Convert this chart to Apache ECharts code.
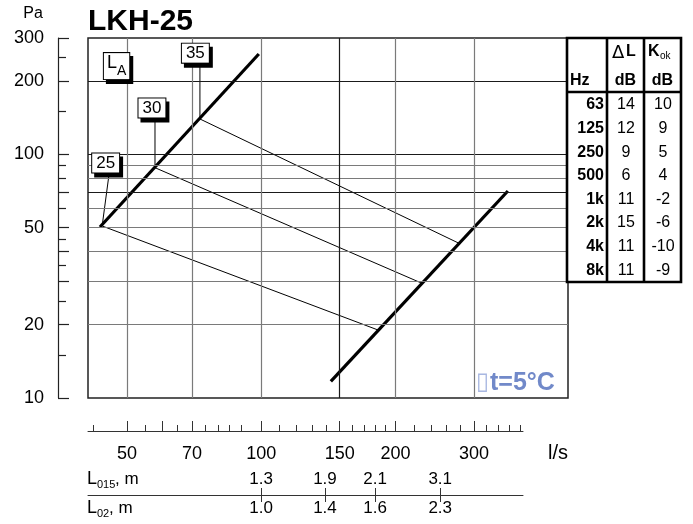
<!DOCTYPE html>
<html><head><meta charset="utf-8">
<script src="https://cdn.jsdelivr.net/npm/echarts@6/dist/echarts.min.js"></script>
<style>html,body{margin:0;padding:0;background:#fff}#c{width:693px;height:524px}</style>
</head><body><div id="c"></div>
<script>
const FONT = '"Liberation Sans", Arial, Helvetica, sans-serif';

// ---- data ----
const xRange = [40.9, 487.6];
const yRange = [10, 300];
const flowAxisMax = 386.4;
const thickLeft = [[43.5, 50.3], [98.8, 258]];
const thickRight = [[143.3, 11.7], [357.5, 70.7]];
const la25 = [[44, 50.8], [183, 19.0]];
const la30 = [[57.8, 88.1], [229, 29.6]];
const la35 = [[72.9, 139.6], [278, 43.1]];
const laNames = ['25', '30', '35'];
const laLabelPos = [[44.8, 92.1], [56.9, 154.9], [71.2, 260]];
const leader25 = [[45.6, 83.0], [44, 50.8]];
const leader30 = [[57.8, 141], [57.8, 88.1]];
const leader35 = [[72.9, 237], [72.9, 139.6]];
const laTitlePos = [47.4, 230];
const yGridValues = [20, 30, 40, 50, 60, 70, 80, 90, 100, 200];
const yGridDark = [70, 100, 200];
const xGridValues = [50, 70, 100, 150, 200, 300];
const xGridDark = [150];
const yMajorTicks = [10, 20, 30, 40, 50, 70, 100, 200, 300];
const yMinorTicks = [15, 25, 35, 45, 60, 80, 90, 150, 250];
const yTickLabels = [10, 20, 50, 100, 200, 300];
const flowMajor = [50, 60, 70, 100, 150, 200, 300];
const flowLabels = [50, 70, 100, 150, 200, 300];
const flowMinor = [42, 55, 65, 75, 80, 85, 90, 110, 120, 130, 140, 160, 170, 180, 190, 220, 240, 260, 280, 320, 340, 360, 380];
const throwFlows = [100, 139, 180, 252];
const L015 = ['1.3', '1.9', '2.1', '3.1'];
const L02 = ['1.0', '1.4', '1.6', '2.3'];
const freqs = ['63', '125', '250', '500', '1k', '2k', '4k', '8k'];
const deltaL = ['14', '12', '9', '6', '11', '15', '11', '11'];
const kok = ['10', '9', '5', '4', '-2', '-6', '-10', '-9'];

// ---- helpers ----
function near(v, arr) {
  for (let i = 0; i < arr.length; i++) if (Math.abs(v - arr[i]) / arr[i] < 0.01) return i;
  return -1;
}
function lineSeries(data, width, z) {
  return { type: 'line', data: data, symbol: 'none', silent: true, z: z, animation: false,
    xAxisIndex: 0, yAxisIndex: 0, lineStyle: { color: '#000', width: width } };
}
function txt(text, x, y, size, opts) {
  opts = opts || {};
  return { type: 'text', silent: true, z: 100, style: {
    text: text, x: x, y: y, fontSize: size, fontFamily: opts.family || FONT,
    fontWeight: opts.weight || 'normal', fill: opts.color || '#000',
    align: opts.align || 'left', textAlign: opts.align || 'left',
    verticalAlign: 'middle', textVerticalAlign: 'middle' } };
}

const gridLineData = [];
yGridValues.forEach(v => gridLineData.push({ yAxis: v, lineStyle: { color: yGridDark.includes(v) ? '#1a1a1a' : '#7a7a7a', width: 1.2, type: 'solid' } }));
xGridValues.forEach(v => gridLineData.push({ xAxis: v, lineStyle: { color: xGridDark.includes(v) ? '#1a1a1a' : '#7a7a7a', width: 1.2, type: 'solid' } }));

const boxTop = {
  show: true, position: 'inside', formatter: '{b}', fontFamily: FONT, fontSize: 17, color: '#000', opacity: 1,
  backgroundColor: '#fff', borderColor: '#000', borderWidth: 1, padding: [2, 4, 0, 4]
};
const boxShadow = Object.assign({}, boxTop, { backgroundColor: '#000', color: '#000', offset: [3, 4] });
const laRich = { formatter: '{l|L}{s|A}', padding: [1, 3, 1, 3],
  rich: { l: { fontSize: 18, fontFamily: FONT, lineHeight: 24, verticalAlign: 'top' },
          s: { fontSize: 14, fontFamily: FONT, lineHeight: 14, verticalAlign: 'bottom' } } };

function boxSeries(label, data, z) {
  return { type: 'scatter', xAxisIndex: 0, yAxisIndex: 0, z: z, silent: true, symbolSize: 1,
    itemStyle: { color: 'rgba(0,0,0,0)', opacity: 1 }, label: label, data: data,
    emphasis: { disabled: true } };
}
const laBoxData = laNames.map((n, i) => ({ name: n, value: laLabelPos[i] }));
const laTitleData = [{ name: 'LA', value: laTitlePos }];

// ---- table graphics ----
const T = { x0: 567, x1: 607, x2: 644, x3: 681, y0: 38, yH: 92, y1: 282 };
const graphics = [
  { type: 'rect', z: 90, shape: { x: T.x0, y: T.y0, width: T.x3 - T.x0, height: T.y1 - T.y0 },
    style: { fill: '#fff', stroke: '#000', lineWidth: 2.6 } },
  { type: 'line', z: 91, shape: { x1: T.x1, y1: T.y0, x2: T.x1, y2: T.y1 }, style: { stroke: '#000', lineWidth: 2.6 } },
  { type: 'line', z: 91, shape: { x1: T.x2, y1: T.y0, x2: T.x2, y2: T.y1 }, style: { stroke: '#000', lineWidth: 2.6 } },
  { type: 'line', z: 91, shape: { x1: T.x0, y1: T.yH, x2: T.x3, y2: T.yH }, style: { stroke: '#000', lineWidth: 2.6 } },
  txt('Δ', 612, 53, 18, { family: '"DejaVu Sans", sans-serif' }),
  txt('L', 626, 52, 16, { weight: 'bold' }),
  txt('K', 648, 52, 16, { weight: 'bold' }),
  txt('ok', 660, 56, 10),
  txt('Hz', 570, 81, 16, { weight: 'bold' }),
  txt('dB', 625.5, 81, 16, { weight: 'bold', align: 'center' }),
  txt('dB', 662.5, 81, 16, { weight: 'bold', align: 'center' }),
  txt('LKH-25', 88, 22, 30, { weight: 'bold' }),
  txt('Pa', 33, 14, 16, { align: 'center' }),
  txt('l/s', 558, 453, 20, { align: 'center' }),
  txt('L', 87, 479, 18),
  txt('015', 97, 485, 11),
  txt(', m', 115, 479, 17),
  txt('L', 87, 508, 18),
  txt('02', 97, 514, 11),
  txt(', m', 109, 508, 17),
  txt('▯', 476, 383, 24, { color: '#a9b8e2', family: '"DejaVu Sans", sans-serif' }),
  txt('t=5°C', 490, 383, 25, { weight: 'bold', color: '#7189c9' })
];
freqs.forEach((f, i) => {
  const y = 105 + i * 23.6;
  graphics.push(txt(f, 604, y, 16, { weight: 'bold', align: 'right' }));
  graphics.push(txt(deltaL[i], 626, y, 16, { align: 'center' }));
  graphics.push(txt(kok[i], 663, y, 16, { align: 'center' }));
});

const chart = echarts.init(document.getElementById('c'), null, { renderer: 'canvas' });
const hidden = { axisLine: { show: false }, axisTick: { show: false }, axisLabel: { show: false }, splitLine: { show: false } };
chart.setOption({
  animation: false,
  backgroundColor: '#fff',
  grid: [
    { left: 88, right: 693 - 568, top: 38, height: 360, show: true, borderColor: '#222', borderWidth: 1.5, backgroundColor: 'transparent' },
    { left: 88, right: 693 - 523, top: 430, height: 1 },
    { left: 88, right: 693 - 523, top: 494, height: 1 }
  ],
  xAxis: [
    Object.assign({ type: 'log', gridIndex: 0, min: xRange[0], max: xRange[1], logBase: 10 }, hidden),
    { type: 'log', gridIndex: 1, min: xRange[0], max: flowAxisMax, position: 'bottom',
      axisLine: { show: true, lineStyle: { color: '#333', width: 1 } },
      axisTick: { show: true, inside: true, length: 10, customValues: flowMajor, lineStyle: { color: '#333', width: 1 } },
      axisLabel: { show: true, customValues: flowLabels, margin: 14, fontSize: 18, fontFamily: FONT, color: '#000',
        formatter: v => { const i = near(v, flowLabels); return i >= 0 ? String(flowLabels[i]) : ''; } },
      splitLine: { show: false } },
    { type: 'log', gridIndex: 1, min: xRange[0], max: flowAxisMax, position: 'bottom',
      axisLine: { show: false },
      axisTick: { show: true, inside: true, length: 6, customValues: flowMinor, lineStyle: { color: '#333', width: 1 } },
      axisLabel: { show: false }, splitLine: { show: false } },
    { type: 'log', gridIndex: 2, min: xRange[0], max: flowAxisMax, position: 'top',
      axisLine: { show: true, lineStyle: { color: '#333', width: 1 } },
      axisTick: { show: true, inside: false, length: 7, customValues: throwFlows, lineStyle: { color: '#333', width: 1 } },
      axisLabel: { show: true, customValues: throwFlows, margin: 6, fontSize: 17, fontFamily: FONT, color: '#000',
        formatter: v => { const i = near(v, throwFlows); return i >= 0 ? L015[i] : ''; } },
      splitLine: { show: false } },
    { type: 'log', gridIndex: 2, min: xRange[0], max: flowAxisMax, position: 'bottom',
      axisLine: { show: false },
      axisTick: { show: true, inside: false, length: 7, customValues: throwFlows, lineStyle: { color: '#333', width: 1 } },
      axisLabel: { show: true, customValues: throwFlows, margin: 5, fontSize: 17, fontFamily: FONT, color: '#000',
        formatter: v => { const i = near(v, throwFlows); return i >= 0 ? L02[i] : ''; } },
      splitLine: { show: false } }
  ],
  yAxis: [
    { type: 'log', gridIndex: 0, min: yRange[0], max: yRange[1], logBase: 10, position: 'left', offset: 30,
      axisLine: { show: true, lineStyle: { color: '#222', width: 1.2 } },
      axisTick: { show: true, inside: true, length: 11, customValues: yMajorTicks, lineStyle: { color: '#222', width: 1.2 } },
      axisLabel: { show: true, customValues: yTickLabels, margin: 14, fontSize: 18, fontFamily: FONT, color: '#000',
        formatter: v => { const i = near(v, yTickLabels); return i >= 0 ? String(yTickLabels[i]) : ''; } },
      splitLine: { show: false } },
    { type: 'log', gridIndex: 0, min: yRange[0], max: yRange[1], logBase: 10, position: 'left', offset: 30,
      axisLine: { show: false },
      axisTick: { show: true, inside: true, length: 8, customValues: yMinorTicks, lineStyle: { color: '#222', width: 1.2 } },
      axisLabel: { show: false }, splitLine: { show: false } },
    Object.assign({ type: 'value', gridIndex: 1, min: 0, max: 1 }, hidden),
    Object.assign({ type: 'value', gridIndex: 2, min: 0, max: 1 }, hidden)
  ],
  series: [
    { type: 'line', data: [], xAxisIndex: 0, yAxisIndex: 0, z: 1, silent: true,
      markLine: { silent: true, symbol: ['none', 'none'], label: { show: false }, animation: false, data: gridLineData } },
    lineSeries(la25, 1, 3),
    lineSeries(la30, 1, 3),
    lineSeries(la35, 1, 3),
    lineSeries(leader25, 1, 3),
    lineSeries(leader30, 1, 3),
    lineSeries(leader35, 1, 3),
    lineSeries(thickLeft, 3.2, 4),
    lineSeries(thickRight, 3.2, 4),
    boxSeries(boxShadow, laBoxData, 6),
    boxSeries(boxTop, laBoxData, 7),
    boxSeries(Object.assign({}, boxShadow, laRich), laTitleData, 6),
    boxSeries(Object.assign({}, boxTop, laRich), laTitleData, 7)
  ],
  graphic: graphics
});
</script></body></html>
